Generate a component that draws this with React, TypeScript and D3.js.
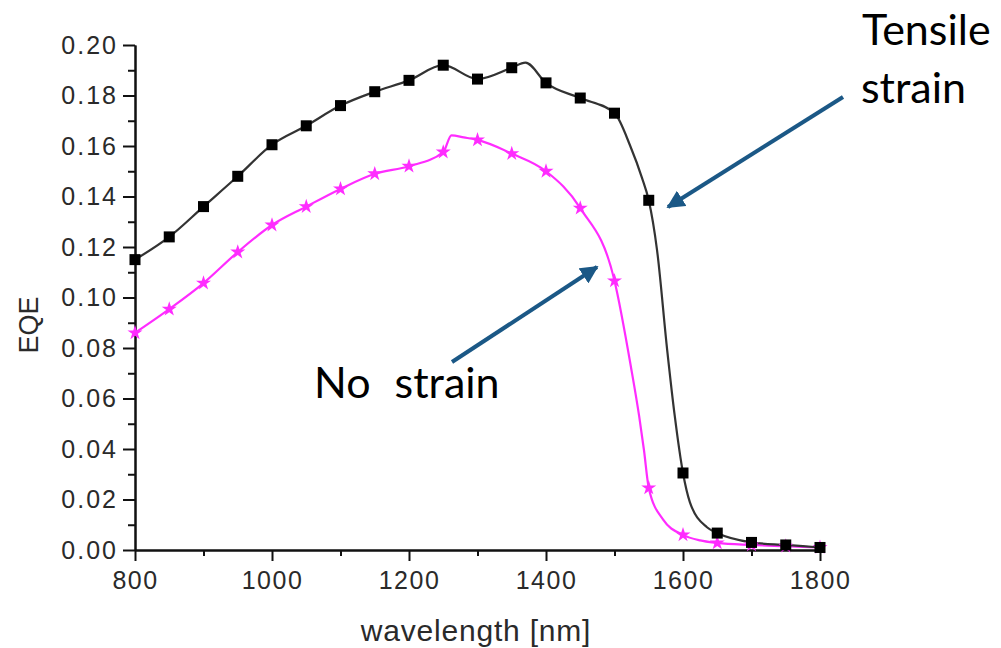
import { useEffect, useRef } from "react";
import * as d3 from "d3";

// wavelengths where markers sit (nm)
const wavelengths = [800, 850, 900, 950, 1000, 1050, 1100, 1150, 1200, 1250, 1300, 1350, 1400, 1450, 1500, 1550, 1600, 1650, 1700, 1750, 1800];

// tensile strain (black squares)
const tensileEqe = [0.115, 0.124, 0.136, 0.148, 0.1605, 0.168, 0.176, 0.1815, 0.186, 0.192, 0.1865, 0.191, 0.185, 0.179, 0.173, 0.1385, 0.0305, 0.0067, 0.003, 0.002, 0.001];
// extra points (between markers)
const tensileCurveX = [1370, 1523, 1540, 1562, 1577, 1588, 1610, 1635];
const tensileCurveY = [0.193, 0.16, 0.1475, 0.119, 0.079, 0.053, 0.019, 0.009];

// no strain (magenta stars)
const noStrainEqe = [0.086, 0.0954, 0.1057, 0.118, 0.1287, 0.136, 0.143, 0.149, 0.152, 0.1576, 0.1624, 0.157, 0.15, 0.1354, 0.1066, 0.0246, 0.006, 0.0028, 0.002, 0.0015, 0.001];
const noStrainCurveX = [1262, 1280, 1524, 1536, 1543, 1571, 1625];
const noStrainCurveY = [0.1642, 0.1634, 0.0725, 0.053, 0.0396, 0.012, 0.0038];

const xMajor = [800, 1000, 1200, 1400, 1600, 1800];
const xMinor = [900, 1100, 1300, 1500, 1700];
const yMajor = [0, 0.02, 0.04, 0.06, 0.08, 0.1, 0.12, 0.14, 0.16, 0.18, 0.2];
const yMinor = [0.01, 0.03, 0.05, 0.07, 0.09, 0.11, 0.13, 0.15, 0.17, 0.19];

const W = 1001;
const H = 648;
const arrowBlue = "#1b5886";
const magenta = "#ff2cff";

export default function App() {
    const ref = useRef<SVGSVGElement>(null);

    useEffect(() => {
        const svg = d3.select(ref.current);
        svg.selectAll("*").remove();

        const x = d3.scaleLinear().domain([800, 1800]).range([135, 820]);
        const y = d3.scaleLinear().domain([0, 0.2]).range([550, 45]);

        const tickFont = "'Liberation Sans', Arial, sans-serif";

        // ---------- y axis ----------
        const gy = svg.append("g").attr("transform", `translate(${x(800)},0)`);
        gy.call(d3.axisLeft(y).tickValues(yMajor).tickSize(12).tickSizeOuter(0).tickPadding(7).tickFormat(d3.format(".2f")) as any);
        gy.append("g").call(d3.axisLeft(y).tickValues(yMinor).tickSize(7).tickSizeOuter(0).tickFormat(() => "") as any);
        gy.selectAll("path.domain").attr("stroke-width", 2).attr("stroke", "#111");
        gy.selectAll("line").attr("stroke-width", 2).attr("stroke", "#111");
        gy.selectAll("text")
            .attr("font-size", 25)
            .attr("letter-spacing", 2)
            .attr("dx", 2)
            .attr("font-family", tickFont)
            .attr("fill", "#2a2a2a");

        // ---------- x axis ----------
        const gx = svg.append("g").attr("transform", `translate(0,${y(0)})`);
        gx.call(d3.axisBottom(x).tickValues(xMajor).tickSize(11).tickSizeOuter(0).tickPadding(10).tickFormat(d3.format("d")) as any);
        gx.append("g").call(d3.axisBottom(x).tickValues(xMinor).tickSize(6).tickSizeOuter(0).tickFormat(() => "") as any);
        gx.selectAll("path.domain").attr("stroke-width", 2).attr("stroke", "#111");
        gx.selectAll("line").attr("stroke-width", 2).attr("stroke", "#111");
        gx.selectAll("text")
            .attr("font-size", 25)
            .attr("letter-spacing", 1.5)
            .attr("font-family", tickFont)
            .attr("fill", "#2a2a2a");

        // axis titles
        svg.append("text")
            .attr("x", 476)
            .attr("y", 641)
            .attr("text-anchor", "middle")
            .attr("font-size", 30)
            .attr("letter-spacing", 0.8)
            .attr("font-family", tickFont)
            .attr("fill", "#2a2a2a")
            .text("wavelength [nm]");

        svg.append("text")
            .attr("transform", `translate(38,325) rotate(-90)`)
            .attr("text-anchor", "middle")
            .attr("font-size", 27)
            .attr("font-family", tickFont)
            .attr("fill", "#2a2a2a")
            .text("EQE");

        // ---------- curves ----------
        const line = d3.line<[number, number]>()
            .x((d) => x(d[0]))
            .y((d) => y(d[1]))
            .curve(d3.curveMonotoneX);

        const merge = (mx: number[], my: number[], cx: number[], cy: number[]) => {
            const pts: [number, number][] = mx.map((v, i) => [v, my[i]]);
            cx.forEach((v, i) => pts.push([v, cy[i]]));
            return pts.sort((a, b) => a[0] - b[0]);
        };

        svg.append("path")
            .attr("d", line(merge(wavelengths, noStrainEqe, noStrainCurveX, noStrainCurveY)))
            .attr("fill", "none")
            .attr("stroke", magenta)
            .attr("stroke-width", 2.2);

        svg.append("path")
            .attr("d", line(merge(wavelengths, tensileEqe, tensileCurveX, tensileCurveY)))
            .attr("fill", "none")
            .attr("stroke", "#333")
            .attr("stroke-width", 2.2);

        // markers
        const star = d3.symbol().type(d3.symbolStar).size(70);
        svg.append("g")
            .selectAll("path")
            .data(wavelengths)
            .enter()
            .append("path")
            .attr("d", star as any)
            .attr("transform", (d, i) => `translate(${x(d)},${y(noStrainEqe[i])})`)
            .attr("fill", magenta);

        const sq = 11;
        svg.append("g")
            .selectAll("rect")
            .data(wavelengths)
            .enter()
            .append("rect")
            .attr("x", (d) => x(d) - sq / 2)
            .attr("y", (d, i) => y(tensileEqe[i]) - sq / 2)
            .attr("width", sq)
            .attr("height", sq)
            .attr("fill", "#000");

        // ---------- annotations ----------
        const defs = svg.append("defs");
        defs.append("marker")
            .attr("id", "head")
            .attr("viewBox", "0 0 10 10")
            .attr("refX", 9)
            .attr("refY", 5)
            .attr("markerWidth", 4.5)
            .attr("markerHeight", 4.5)
            .attr("orient", "auto")
            .append("path")
            .attr("d", "M0,0 L10,5 L0,10 Z")
            .attr("fill", arrowBlue);

        const arrows = [
            [843, 97, 668, 207],
            [452, 362, 597, 267],
        ];
        svg.append("g")
            .selectAll("line")
            .data(arrows)
            .enter()
            .append("line")
            .attr("x1", (d) => d[0])
            .attr("y1", (d) => d[1])
            .attr("x2", (d) => d[2])
            .attr("y2", (d) => d[3])
            .attr("stroke", arrowBlue)
            .attr("stroke-width", 4)
            .attr("marker-end", "url(#head)");

        const noteFont = "Lato, 'Open Sans', sans-serif";
        const notes = [
            ["Tensile", 862, 45],
            ["strain", 861, 103],
            ["No  strain", 314, 398],
        ];
        svg.append("g")
            .selectAll("text")
            .data(notes)
            .enter()
            .append("text")
            .attr("x", (d) => d[1] as number)
            .attr("y", (d) => d[2] as number)
            .attr("font-size", 43)
            .attr("word-spacing", (d) => (d[0] === "No  strain" ? 1 : 0))
            .attr("font-family", noteFont)
            .attr("fill", "#000")
            .style("white-space", "pre")
            .text((d) => d[0] as string);
    }, []);

    return (
        <svg
            ref={ref}
            width={W}
            height={H}
            style={{ position: "absolute", left: 0, top: 0, background: "#fff" }}
        ></svg>
    );
}
